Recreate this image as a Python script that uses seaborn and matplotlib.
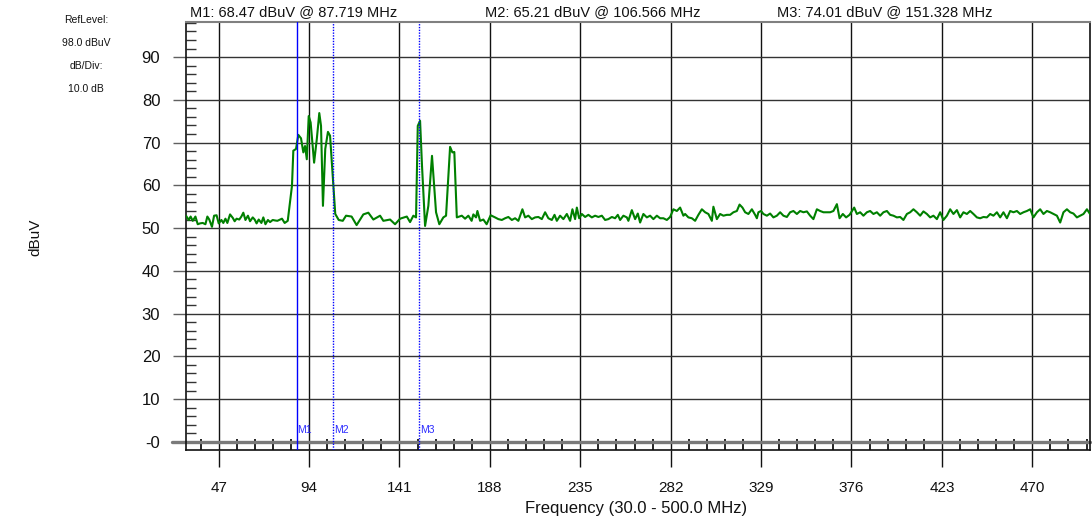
import numpy as np
import pandas as pd
import matplotlib
matplotlib.use("Agg")
import matplotlib.pyplot as plt
import seaborn as sns
from matplotlib.ticker import MultipleLocator

# ---------------- data ----------------
freq_mhz = [
    30.0, 31.4, 32.4, 33.5, 34.9, 36.1, 37.3, 38.7, 40.1, 41.1, 42.1, 43.5, 44.6, 45.9, 47.0,
    48.4, 49.4, 50.5, 51.5, 52.9, 54.3, 55.3, 56.3, 57.7, 58.8, 59.8, 60.9, 62.2, 63.3, 64.7,
    65.7, 66.7, 67.8, 69.2, 70.2, 71.3, 72.6, 73.7, 75.1, 76.1, 77.5, 78.5, 79.9, 81.3, 82.9,
    85.1, 85.8, 87.2, 88.4, 89.8, 91.0, 91.9, 92.8, 93.8, 94.8, 96.6, 98.0, 99.3, 100.2, 101.2,
    102.4, 103.8, 104.9, 106.3, 107.6, 109.4, 111.5, 113.2,
    116.1, 118.7, 122.2, 124.8, 127.4, 130.9, 132.6, 136.1, 138.7, 141.3, 144.8, 146.5, 148.2, 149.6,
    150.5, 151.7, 152.7, 154.3, 156.0, 157.9, 160.0, 161.7, 163.8, 165.2, 167.3, 168.5, 169.5, 170.8,
    173.4, 175.1, 176.8, 178.5, 179.4, 180.8, 181.5, 182.9, 184.6, 186.3, 188.4,
    190.7, 192.4, 194.2, 195.9, 197.6, 199.4, 201.1, 202.8, 204.9, 206.3, 208.0, 209.8, 211.5, 213.2,
    215.0, 216.7, 218.4, 220.2, 221.6, 222.8, 224.5, 226.2, 228.0, 229.7, 230.9, 232.3, 233.2, 234.4,
    235.8, 237.5, 239.2, 241.0, 242.7, 244.4, 246.2, 247.9, 249.6, 251.4, 253.1, 254.5, 255.7, 257.4,
    259.2, 260.0, 261.8, 263.5, 264.9, 266.1, 267.8, 269.6, 271.3, 273.0, 274.8, 276.5, 278.2, 280.0,
    281.7, 283.4, 285.2, 286.9, 288.6, 289.5, 291.2, 293.0, 294.7, 296.4, 298.2, 299.9, 301.6, 303.4,
    304.2, 306.0, 307.7, 309.4, 311.2, 312.9, 314.6, 316.4, 317.8, 319.3, 320.7, 322.4, 324.2, 325.9,
    326.8, 327.6, 329.0, 330.2, 332.0, 333.7, 335.4, 337.2, 338.9, 340.6, 342.4, 344.1, 345.8,
    347.6, 349.3, 351.0, 352.8, 354.5, 356.2, 358.0, 359.7, 361.4, 363.2, 364.9, 366.6, 368.4, 369.8,
    371.5, 373.2, 375.0, 376.3, 377.4, 378.8, 380.5, 382.2, 384.0, 385.7, 387.4, 389.2, 390.9, 392.6,
    394.4, 396.1, 397.8, 399.6, 401.3, 403.0, 404.8, 406.5, 408.2, 410.0, 411.7, 413.4, 415.2, 416.9,
    418.6, 420.4, 422.1, 423.8, 425.6, 427.3, 429.0, 430.8, 432.5, 434.2, 436.0, 437.7, 439.4, 441.2,
    442.9, 444.6, 446.4, 448.1, 449.8, 451.6, 453.3, 455.0, 456.8, 458.5, 460.2, 462.0, 463.7, 465.4,
    467.2, 468.9, 470.6, 472.4, 474.1, 475.8, 477.6, 479.3, 481.0, 482.8, 484.5, 486.2, 488.0, 489.7,
    491.4, 493.2, 494.9, 496.6, 498.4, 500.0,
]
level_dbuv = [
    52.9, 51.9, 52.7, 51.7, 52.7, 50.9, 51.1, 51.2, 50.9, 52.7, 52.0, 50.3, 52.9, 53.0, 51.1,
    51.9, 51.2, 52.2, 51.2, 53.2, 52.4, 51.6, 52.2, 52.0, 52.7, 53.6, 51.9, 52.9, 51.6, 52.5,
    52.0, 51.1, 52.0, 51.2, 52.5, 50.9, 51.9, 51.4, 51.9, 51.8, 51.7, 51.9, 52.2, 51.2, 51.7,
    59.9, 68.1, 68.5, 71.8, 71.0, 67.7, 69.2, 66.1, 76.2, 74.7, 65.3, 70.8, 76.9, 73.9, 55.2,
    68.5, 72.5, 71.6, 62.0, 53.3, 51.9, 51.7, 52.9,
    52.7, 50.7, 53.2, 53.6, 52.0, 52.9, 51.7, 52.0, 50.9, 52.2, 52.7, 51.4, 52.9, 52.5,
    73.9, 75.1, 64.6, 50.5, 55.2, 66.9, 53.7, 50.9, 52.5, 52.9, 69.0, 67.7, 67.8, 52.5,
    52.9, 52.2, 52.9, 51.7, 53.2, 52.5, 54.0, 51.7, 52.0, 50.9, 53.0,
    52.5, 52.1, 51.9, 52.3, 52.6, 51.9, 52.3, 51.7, 54.4, 52.5, 52.9, 52.1, 52.5, 52.6,
    52.1, 53.7, 52.3, 51.9, 53.1, 51.7, 52.9, 52.1, 53.3, 51.7, 54.4, 52.1, 54.8, 52.3,
    53.3, 52.6, 53.1, 52.5, 52.9, 52.6, 52.9, 51.9, 52.1, 52.6, 52.3, 53.1, 51.9, 52.9,
    52.5, 51.7, 54.2, 52.1, 53.4, 51.3, 53.3, 52.5, 52.9, 52.1, 52.9, 52.3, 52.3, 51.9,
    52.6, 54.4, 54.0, 54.8, 52.9, 53.3, 52.5, 52.3, 51.7, 53.1, 54.4, 53.7, 53.3, 51.7,
    55.0, 52.1, 53.3, 52.9, 53.1, 53.1, 53.7, 54.0, 55.5, 54.8, 53.7, 53.3, 54.4, 53.1,
    52.3, 53.7, 54.0, 53.3, 52.9, 53.4, 52.5, 52.9, 53.7, 52.9, 52.6, 53.7, 54.0,
    53.3, 54.0, 53.7, 53.9, 52.9, 52.1, 54.4, 54.0, 53.7, 53.7, 53.7, 54.0, 55.6, 52.3,
    53.3, 52.5, 53.1, 54.0, 54.8, 53.3, 53.7, 52.9, 53.7, 54.0, 53.3, 53.7, 52.9, 53.7,
    54.0, 53.1, 52.9, 52.5, 52.6, 51.9, 53.3, 53.7, 54.4, 53.7, 52.9, 53.9, 53.3, 52.5,
    52.9, 52.1, 53.7, 51.9, 52.9, 54.4, 53.3, 54.2, 52.5, 53.7, 53.3, 54.0, 53.3, 52.5,
    52.3, 52.6, 52.5, 53.3, 52.9, 53.7, 52.5, 53.7, 52.3, 54.0, 53.7, 54.0, 53.3, 53.7,
    54.0, 54.4, 52.5, 53.7, 54.4, 53.3, 54.0, 53.7, 53.3, 52.9, 51.3, 53.7, 54.4, 53.7,
    53.4, 52.5, 52.9, 53.3, 54.4, 53.3,
]

marker_names = ["M1", "M2", "M3"]
marker_freq_mhz = [87.719, 106.566, 151.328]
marker_level_dbuv = [68.47, 65.21, 74.01]

x_ticks = [47, 94, 141, 188, 235, 282, 329, 376, 423, 470]
y_ticks = [0, 10, 20, 30, 40, 50, 60, 70, 80, 90]
y_tick_labels = ["-0", "10", "20", "30", "40", "50", "60", "70", "80", "90"]

ref_info = ["RefLevel:", "98.0 dBuV", "dB/Div:", "10.0 dB"]

# ---------------- drawing ----------------
sns.set_theme(style="white")
plt.rcParams["font.family"] = ["Liberation Sans", "DejaVu Sans"]

W, H = 1092, 522
fig = plt.figure(figsize=(W / 100, H / 100), dpi=100)
ax = fig.add_axes([186 / W, 1 - 450 / H, 904 / W, 428 / H])

df = pd.DataFrame({"freq": freq_mhz, "level": level_dbuv})
sns.lineplot(data=df, x="freq", y="level", color="#008000", linewidth=1.5,
             ax=ax, zorder=5, legend=False)

ax.set_xlim(30, 500)
ax.set_ylim(-1.9, 98.2)
ax.set_xticks(x_ticks, [str(t) for t in x_ticks])
ax.set_yticks(y_ticks, y_tick_labels)
ax.xaxis.set_minor_locator(MultipleLocator(9.4))
ax.yaxis.set_minor_locator(MultipleLocator(2))
ax.set_xlabel("")
ax.set_ylabel("")

ax.grid(False)
for t in x_ticks:
    ax.axvline(t, color="#111111", lw=1.0, zorder=1)
for t in y_ticks[1:]:
    ax.axhline(t, color="#333333", lw=1.0, zorder=1)
ax.plot([-0.015, 1.0], [0, 0], transform=ax.get_yaxis_transform(),
        clip_on=False, color="#7a7a7a", lw=2.4, zorder=1.5)

ax.tick_params(axis="y", which="major", direction="out", length=9.5, width=1,
               color="#606060", labelsize=12, pad=9, left=True, labelcolor="#111111")
ax.tick_params(axis="y", which="minor", direction="in", length=7, width=1,
               color="#333333", left=True)
ax.tick_params(axis="x", which="major", direction="out", length=12, width=1,
               color="#111111", labelsize=11, pad=10, bottom=True, labelcolor="#111111")
ax.tick_params(axis="x", which="minor", direction="in", length=8, width=1.2,
               color="#000000", bottom=True)

for side in ["left", "bottom", "right"]:
    ax.spines[side].set_color("#111111")
    ax.spines[side].set_linewidth(1.2)
ax.spines["top"].set_color("#808080")
ax.spines["top"].set_linewidth(1.5)

styles = ["-", (0, (1, 1)), (0, (1, 1))]
for name, f, ls in zip(marker_names, marker_freq_mhz, styles):
    ax.axvline(f, color="#0000ff", lw=1.0, ls=ls, zorder=6)
    ax.text(f + 0.2, 2.8, name, color="#2a2aff", fontsize=7.5,
            ha="left", va="center", zorder=7)

header_x = [190, 485, 777]
for name, f, lv, hx in zip(marker_names, marker_freq_mhz, marker_level_dbuv, header_x):
    fig.text(hx / W, 1 - 12 / H, f"{name}: {lv:.2f} dBuV @ {f:.3f} MHz",
             fontsize=10.5, ha="left", va="center", color="#111111")

for i, s in enumerate(ref_info):
    fig.text(86 / W, 1 - (20 + 23 * i) / H, s, fontsize=7.5, ha="center",
             va="center", color="#111111")

fig.text(35 / W, 1 - 237 / H, "dBuV", rotation=90, fontsize=11,
         ha="center", va="center", color="#111111")
fig.text(636 / W, 1 - 509 / H, "Frequency (30.0 - 500.0 MHz)", fontsize=12,
         ha="center", va="center", color="#111111")

fig.savefig("out.png", dpi=100, facecolor="white")
